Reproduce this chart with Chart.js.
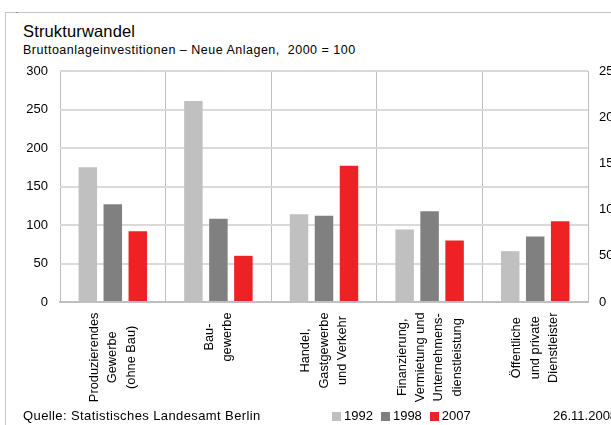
<!DOCTYPE html>
<html>
<head>
<meta charset="utf-8">
<script src="https://cdn.jsdelivr.net/npm/chart.js@4/dist/chart.umd.min.js"></script>
<style>
html, body { margin:0; padding:0; width:611px; height:425px; overflow:hidden; background:#fff; }
body { font-family:"Liberation Sans", Arial, sans-serif; color:#000; position:relative; }
#frame { position:absolute; left:5px; top:12px; width:700px; height:500px; border:1px solid #c4c4c4; }
#wrap { position:absolute; left:0; top:0; width:640px; height:425px; }
.t { position:absolute; white-space:nowrap; }
#dot { left:16px; top:7px; font-size:7px; }
#title { left:23px; top:22px; font-size:16.5px; letter-spacing:.15px; }
#sub { left:23px; top:43px; font-size:12.5px; letter-spacing:.5px; }
#src { left:23px; top:408px; font-size:13px; letter-spacing:.4px; }
#legend { left:332px; top:408px; font-size:13px; }
#legend span.box { display:inline-block; width:9px; height:9px; margin-right:3px; vertical-align:-1px; }
#legend span.item { margin-right:8px; }
#date { left:553px; top:408px; font-size:13px; }
</style>
</head>
<body>
<div id="frame"></div>
<div class="t" id="dot">.</div>
<div class="t" id="title">Strukturwandel</div>
<div class="t" id="sub">Bruttoanlageinvestitionen – Neue Anlagen,&nbsp; 2000 = 100</div>
<div id="wrap"><canvas id="chart" width="640" height="425"></canvas></div>
<div class="t" id="src">Quelle: Statistisches Landesamt Berlin</div>
<div class="t" id="legend"></div>
<div class="t" id="date">26.11.2008</div>
<script>
// categories (line breaks as in the original axis labels)
const categories = [
  ['Produzierendes', 'Gewerbe', '(ohne Bau)'],
  ['Bau-', 'gewerbe'],
  ['Handel,', 'Gastgewerbe', 'und Verkehr'],
  ['Finanzierung,', 'Vermietung und', 'Unternehmens-', 'dienstleistung'],
  ['Öffentliche', 'und private', 'Dienstleister']
]
const years = ['1992', '1998', '2007']
const v1992 = [175, 261, 114, 94, 66]
const v1998 = [127, 108, 112, 118, 85]
const v2007 = [92, 60, 177, 80, 105]
const colors = ['#c0c0c0', '#808080', '#ee2124']

const series = [v1992, v1998, v2007]

// legend in the footer line
const legendEl = document.getElementById('legend')
years.forEach((y, i) => {
  const item = document.createElement('span')
  item.className = 'item'
  item.innerHTML = '<span class="box" style="background:' + colors[i] + '"></span>' + y
  legendEl.appendChild(item)
})

// rotated, centred multi-line category labels
const xLabels = {
  id: 'xLabels',
  afterDraw(chart){
    const ctx = chart.ctx
    const x = chart.scales.x
    ctx.save()
    ctx.font = '12.8px "Liberation Sans", Arial, sans-serif'
    ctx.fillStyle = '#000'
    ctx.textAlign = 'center'
    ctx.textBaseline = 'middle'
    categories.forEach((lines, i) => {
      const px = x.getPixelForValue(i)
      const w = Math.max(...lines.map(l => ctx.measureText(l).width))
      ctx.save()
      ctx.translate(px, x.bottom + 10.5 + w / 2)
      ctx.rotate(-Math.PI / 2)
      lines.forEach((l, j) => ctx.fillText(l, 0, (j - (lines.length - 1) / 2) * 18.3))
      ctx.restore()
    })
    ctx.restore()
  }
}

const tickFont = { family: '"Liberation Sans", Arial, sans-serif', size: 13 }

new Chart(document.getElementById('chart').getContext('2d'), {
  type: 'bar',
  data: {
    labels: categories.map(c => c.join(' ')),
    datasets: series.map((s, i) => ({
      label: years[i],
      data: s,
      backgroundColor: colors[i],
      borderWidth: 0,
      categoryPercentage: 0.71,
      barPercentage: 0.74,
      yAxisID: 'y'
    }))
  },
  options: {
    responsive: false,
    animation: false,
    layout: { padding: { left: 23, right: 12, top: 71, bottom: 123 } },
    plugins: { legend: { display: false }, tooltip: { enabled: false } },
    scales: {
      x: {
        ticks: { display: false },
        grid: { color: '#bfbfbf', lineWidth: 1, drawTicks: false, offset: true },
        border: { color: '#bfbfbf', width: 2 }
      },
      y: {
        position: 'left',
        min: 0, max: 300,
        ticks: { stepSize: 50, padding: 12, color: '#000', font: tickFont },
        grid: { color: '#dadada', lineWidth: 2, drawTicks: false },
        border: { display: false },
        afterFit(scale){ scale.width = 37 }
      },
      y2: {
        type: 'linear',
        position: 'right',
        min: 0, max: 250,
        ticks: { stepSize: 50, padding: 11, color: '#000', font: tickFont },
        grid: { display: false, drawTicks: false },
        border: { display: false },
        afterFit(scale){ scale.width = 40 }
      }
    }
  },
  plugins: [xLabels]
})
</script>
</body>
</html>
